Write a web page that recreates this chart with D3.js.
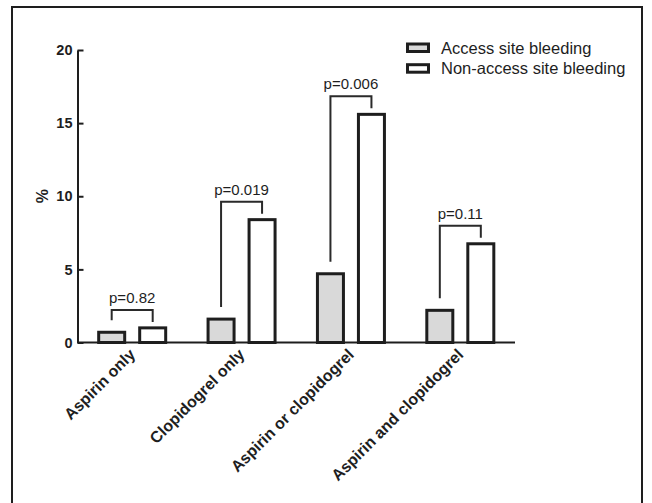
<!DOCTYPE html>
<html>
<head>
<meta charset="utf-8">
<script src="https://cdn.jsdelivr.net/npm/d3@7"></script>
<style>
  html, body { margin: 0; padding: 0; background: #fff; }
  svg { display: block; font-family: "Liberation Sans", Arial, Helvetica, sans-serif; }
</style>
</head>
<body>
<svg id="chart" width="652" height="503"></svg>
<script>
// Bleeding rates (%) by antiplatelet regimen
const categories = ["Aspirin only", "Clopidogrel only", "Aspirin or clopidogrel", "Aspirin and clopidogrel"];
const seriesNames = ["Access site bleeding", "Non-access site bleeding"];
const accessSite = [0.7, 1.6, 4.7, 2.2];
const nonAccessSite = [1.0, 8.4, 15.6, 6.75];
const pValues = ["p=0.82", "p=0.019", "p=0.006", "p=0.11"];
const yTicks = [0, 5, 10, 15, 20];

const ink = "#1e1e1e";
const fills = ["#d9d9d9", "#ffffff"];

const svg = d3.select("#chart");

// outer panel border (open at the bottom edge of the page)
svg.append("rect")
  .attr("x", 12).attr("y", 7)
  .attr("width", 630).attr("height", 540)
  .attr("fill", "none").attr("stroke", ink).attr("stroke-width", 2);

const plot = { left: 77.5, right: 515, top: 50, bottom: 342.5 };

const x = d3.scaleBand().domain(categories).range([plot.left, plot.right]).padding(0);
const y = d3.scaleLinear().domain([0, 20]).range([plot.bottom, plot.top]);

const barW = 26;
const barOffset = 20.5;

const rows = categories.map((c, i) => ({
  cat: c,
  values: [accessSite[i], nonAccessSite[i]],
  p: pValues[i]
}));

// bars
const g = svg.append("g");
rows.forEach(r => {
  const cx = x(r.cat) + x.bandwidth() / 2;
  r.values.forEach((v, j) => {
    const bx = cx + (j === 0 ? -barOffset : barOffset);
    g.append("rect")
      .attr("x", bx - barW / 2)
      .attr("y", y(v))
      .attr("width", barW)
      .attr("height", y(0) - y(v))
      .attr("fill", fills[j])
      .attr("stroke", ink)
      .attr("stroke-width", 3);
  });
});

// x axis baseline
svg.append("line")
  .attr("x1", plot.left).attr("x2", plot.right)
  .attr("y1", y(0)).attr("y2", y(0))
  .attr("stroke", ink).attr("stroke-width", 2);

// y axis with inward ticks
const yAxis = svg.append("g")
  .attr("transform", `translate(${plot.left},0)`)
  .call(d3.axisLeft(y).tickValues(yTicks).tickSize(-6).tickPadding(5).tickSizeOuter(0));
yAxis.select(".domain").attr("stroke", ink).attr("stroke-width", 2);
yAxis.selectAll(".tick line").attr("stroke", ink).attr("stroke-width", 2);
yAxis.selectAll(".tick text")
  .attr("fill", ink)
  .style("font-family", "'Liberation Sans', Arial, sans-serif")
  .style("font-size", "14.5px")
  .style("font-weight", "bold");

// y axis title
svg.append("text")
  .attr("transform", `translate(48,${(y(0) + y(20)) / 2}) rotate(-90)`)
  .attr("text-anchor", "middle")
  .attr("fill", ink)
  .style("font-size", "16px")
  .style("font-weight", "bold")
  .text("%");

// category labels
svg.append("g").selectAll("text")
  .data(categories)
  .join("text")
  .attr("transform", d => `translate(${x(d) + x.bandwidth() / 2 + 4},${y(0) + 13}) rotate(-45)`)
  .attr("text-anchor", "end")
  .attr("fill", ink)
  .style("font-size", "16px")
  .style("font-weight", "bold")
  .text(d => d);

// significance brackets
const br = svg.append("g");
rows.forEach(r => {
  const cx = x(r.cat) + x.bandwidth() / 2;
  const x1 = cx - barOffset, x2 = cx + barOffset;
  const top = Math.min(y(r.values[0]), y(r.values[1])) - 18;
  const leftEnd = y(r.values[0]) - 12;
  const rightEnd = y(r.values[1]) - 6;
  br.append("path")
    .attr("d", `M${x1},${leftEnd}V${top}H${x2}V${rightEnd}`)
    .attr("fill", "none")
    .attr("stroke", "#2a2a2a")
    .attr("stroke-width", 2);
  br.append("text")
    .attr("x", (x1 + x2) / 2)
    .attr("y", top - 7)
    .attr("text-anchor", "middle")
    .attr("fill", ink)
    .style("font-size", "15px")
    .text(r.p);
});

// legend
const legend = svg.append("g").attr("transform", "translate(407.5,44)");
seriesNames.forEach((name, i) => {
  const row = legend.append("g").attr("transform", `translate(0,${i * 20.7})`);
  row.append("rect")
    .attr("x", 0).attr("y", 0)
    .attr("width", 21).attr("height", 7.5)
    .attr("fill", fills[i]).attr("stroke", ink).attr("stroke-width", 3);
  row.append("text")
    .attr("x", 33.5).attr("y", 9.5)
    .attr("fill", ink)
    .style("font-size", "16.5px")
    .text(name);
});
</script>
</body>
</html>
